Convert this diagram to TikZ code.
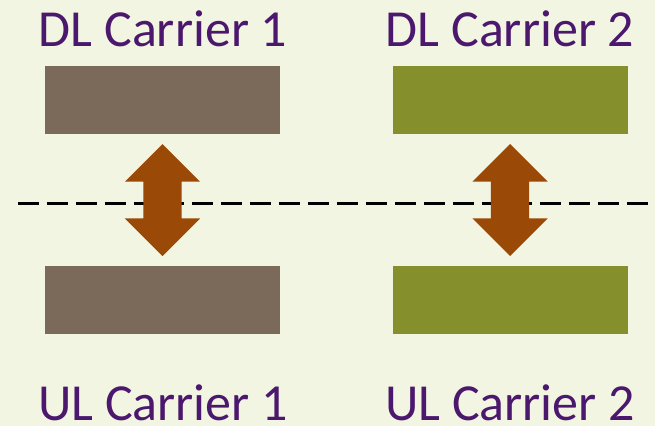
\documentclass[tikz,border=0pt]{standalone}
\usepackage{fontspec}
\setmainfont{Carlito}
\usepackage{xcolor}
\usepackage{tikz}
\usetikzlibrary{
  positioning,
  shapes.arrows,
  calc
}

\definecolor{bgcream}{HTML}{F1F5E1}
\definecolor{lblpurple}{HTML}{4B186E}
\definecolor{carrierone}{HTML}{7B6A5A}
\definecolor{carriertwo}{HTML}{85902C}
\definecolor{duplexarrow}{HTML}{9A4906}

\begin{document}
\begin{tikzpicture}[x=1pt, y=-1pt,
  carrier/.style={rectangle, inner sep=0pt, minimum width=235pt, minimum height=68pt},
  lbl/.style={anchor=base, inner sep=0pt, text=lblpurple, font=\fontsize{52}{60}\selectfont},
  updown/.style={double arrow, fill=duplexarrow, inner xsep=0pt, inner ysep=19pt, rotate=90,
    minimum height=112pt, minimum width=75pt, double arrow head extend=18.5pt}]
  \fill[bgcream] (0,0) rectangle (655,426);
  \useasboundingbox (0,0) rectangle (655,426);

  % carrier bands
  \node[carrier, fill=carrierone] (dl1) at (162.5,100) {};
  \node[carrier, fill=carriertwo] (dl2) at (510,100) {};
  \node[carrier, fill=carrierone] (ul1) at (162.5,300) {};
  \node[carrier, fill=carriertwo] (ul2) at (510,300) {};

  \node[lbl] (dl1lbl) at (163,46) {DL Carrier 1};
  \node[lbl] (dl2lbl) at (510,46) {DL Carrier 2};
  \node[lbl] (ul1lbl) at (163,420) {UL Carrier 1};
  \node[lbl] (ul2lbl) at (510,420) {UL Carrier 2};

  % split line
  \coordinate (splitl) at (18,203);
  \coordinate (splitr) at (655,203);
  \draw[line width=3pt, dash pattern=on 21pt off 8pt] (splitl) -- (splitr);

  \node[updown] (duplex1) at ($(dl1)!0.5!(ul1)$) {};
  \node[updown] (duplex2) at ($(dl2)!0.5!(ul2)$) {};
\end{tikzpicture}
\end{document}
